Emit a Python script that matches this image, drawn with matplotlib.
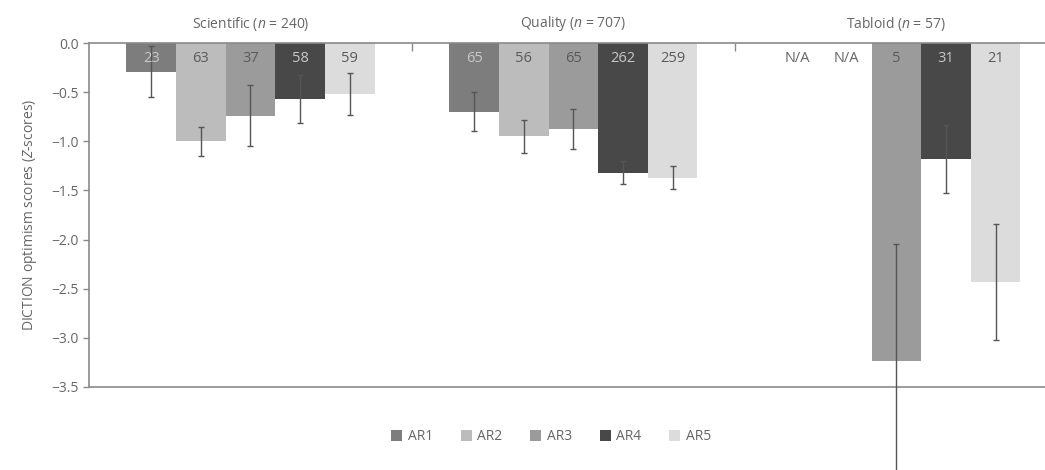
import matplotlib
matplotlib.use("Agg")
import matplotlib.pyplot as plt
import numpy as np

plt.rcParams['font.family'] = ['Open Sans', 'DejaVu Sans']
plt.rcParams['mathtext.fontset'] = 'custom'
plt.rcParams['mathtext.it'] = 'Open Sans:italic'
plt.rcParams['mathtext.rm'] = 'Open Sans'

groups = ["Scientific ($n$ = 240)", "Quality ($n$ = 707)", "Tabloid ($n$ = 57)"]
series = ["AR1", "AR2", "AR3", "AR4", "AR5"]
colors = ["#7d7d7d", "#bcbcbc", "#9b9b9b", "#484848", "#dcdcdc"]
label_colors = ["#c8c8c8", "#5a5a5a", "#5a5a5a", "#c8c8c8", "#5a5a5a"]

# values[group][series]; None = N/A
means = [
    [-0.29, -1.00, -0.74, -0.57, -0.52],
    [-0.70, -0.95, -0.875, -1.32, -1.37],
    [None, None, -3.24, -1.18, -2.43],
]
errors = [
    [0.26, 0.145, 0.31, 0.245, 0.21],
    [0.20, 0.165, 0.205, 0.115, 0.12],
    [None, None, 1.19, 0.345, 0.59],
]
counts = [
    ["23", "63", "37", "58", "59"],
    ["65", "56", "65", "262", "259"],
    ["N/A", "N/A", "5", "31", "21"],
]
yticks = [0.0, -0.5, -1.0, -1.5, -2.0, -2.5, -3.0, -3.5]

W, H = 1045, 470
fig = plt.figure(figsize=(W / 100, H / 100), dpi=100)
left, right, top, bottom = 89, 1045, 43, 387
ax = fig.add_axes([left / W, 1 - bottom / H, (right - left) / W, (bottom - top) / H])

bw = 0.1536
axis_col = "#8a8a8a"
text_col = "#666666"
for si, s in enumerate(series):
    xs, ys, es = [], [], []
    for gi in range(len(groups)):
        x = gi + (si - 2) * bw
        m = means[gi][si]
        if m is not None:
            xs.append(x); ys.append(m); es.append(errors[gi][si])
        ax.text(x, -0.16, counts[gi][si], ha='center', va='center', fontsize=10.5,
                color=(label_colors[si] if m is not None else text_col), zorder=5)
    ax.bar(xs, ys, width=bw, color=colors[si], label=s, zorder=2)
    ax.errorbar(xs, ys, yerr=es, fmt='none', ecolor="#555555", elinewidth=1.0,
                capsize=2, capthick=1.0, clip_on=False, zorder=4)

for gi, g in enumerate(groups):
    ax.text(gi, 0.1, g, ha='center', va='bottom', fontsize=10, color=text_col)

ax.set_xlim(-0.5, 2.46)
ax.set_ylim(-3.5, 0.0)
ax.set_yticks(yticks)
ax.set_yticklabels([f"{v:.1f}".replace("-", "\u2212") for v in yticks], fontsize=10, color=text_col)
ax.set_ylabel("DICTION optimism scores ($Z$-scores)", fontsize=10, color=text_col, labelpad=9)
ax.xaxis.tick_top()
ax.set_xticks([0.5, 1.5])
ax.set_xticklabels([])
ax.tick_params(axis='x', direction='in', length=6, color=axis_col, width=1)
ax.tick_params(axis='y', direction='out', length=4, color=axis_col, width=1)
for sp in ['top', 'bottom', 'left']:
    ax.spines[sp].set_color(axis_col)
    ax.spines[sp].set_linewidth(1.2)
ax.spines['right'].set_visible(False)

leg = fig.legend(loc='center', bbox_to_anchor=(551 / W, 1 - 437 / H), ncol=5, frameon=False,
                 fontsize=10, handlelength=0.8, handleheight=0.8, handletextpad=0.4,
                 columnspacing=2.0)
for t in leg.get_texts():
    t.set_color(text_col)

fig.savefig("out.png", dpi=100)
